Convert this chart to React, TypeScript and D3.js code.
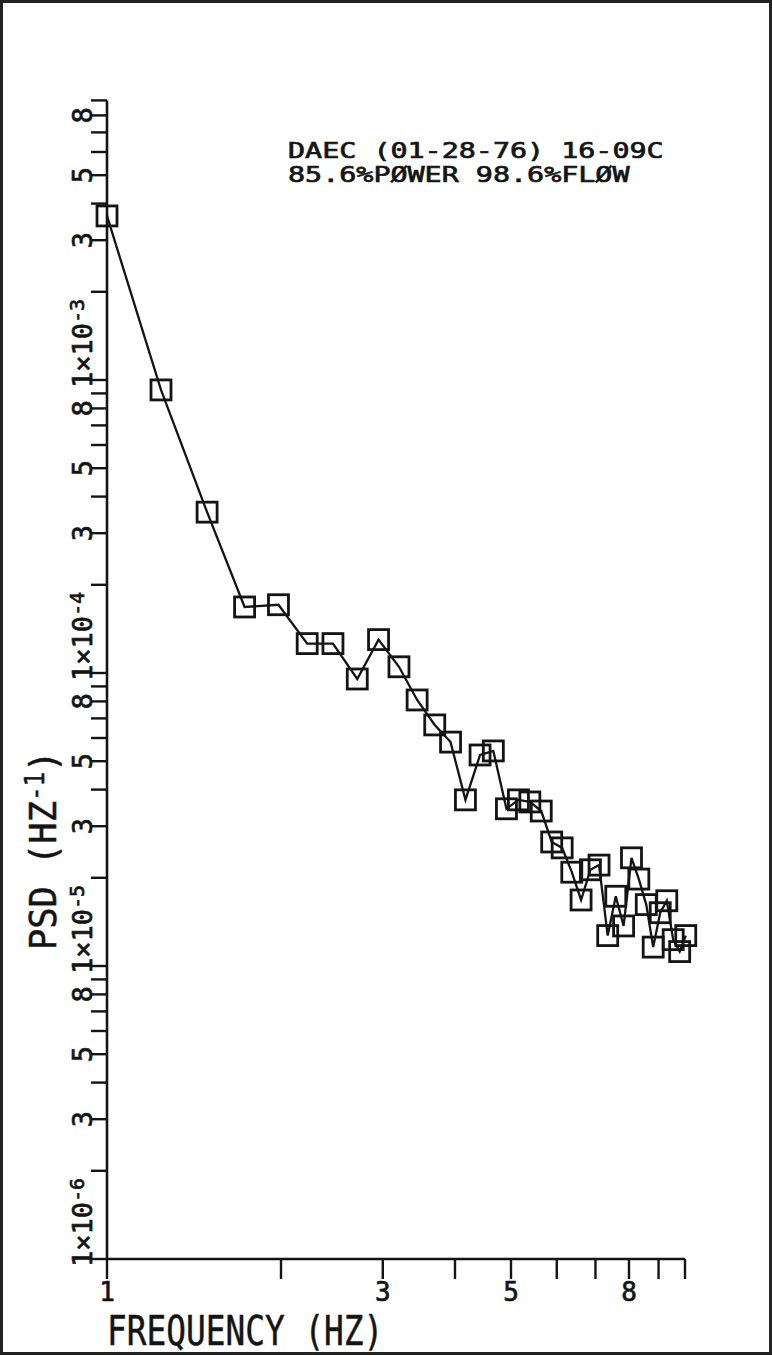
import React from 'react';
import * as d3 from 'd3';

// PSD spectrum, DAEC 01-28-76, one point per frequency bin
const freqHz = [
  1.0, 1.24, 1.49, 1.73, 1.98, 2.22, 2.46, 2.71, 2.95, 3.2,
  3.44, 3.69, 3.93, 4.17, 4.42, 4.66, 4.91, 5.15, 5.39, 5.64,
  5.88, 6.13, 6.37, 6.61, 6.86, 7.1, 7.35, 7.59, 7.83, 8.08,
  8.32, 8.57, 8.81, 9.06, 9.3, 9.54, 9.79, 10.03,
];
const psd = [
  3.63e-3, 9.25e-4, 3.54e-4, 1.68e-4, 1.71e-4, 1.26e-4, 1.26e-4, 9.54e-5, 1.3e-4, 1.05e-4,
  8.09e-5, 6.65e-5, 5.81e-5, 3.69e-5, 5.25e-5, 5.42e-5, 3.44e-5, 3.69e-5, 3.63e-5, 3.38e-5,
  2.65e-5, 2.53e-5, 2.09e-5, 1.68e-5, 2.13e-5, 2.21e-5, 1.27e-5, 1.73e-5, 1.37e-5, 2.34e-5,
  1.98e-5, 1.62e-5, 1.16e-5, 1.52e-5, 1.67e-5, 1.23e-5, 1.12e-5, 1.27e-5,
];

const xTicks = [1, 2, 3, 4, 5, 6, 7, 8, 9, 10];
const xTickLabels = ['1', '', '3', '', '5', '', '', '8', '', ''];
const yDecades = [-6, -5, -4, -3];
const yMantissas = [1, 2, 3, 4, 5, 6, 7, 8, 9];
const yLabeledMantissas = [1, 3, 5, 8];
const titleLines = ['DAEC (01-28-76) 16-09C', '85.6%PØWER 98.6%FLØW'];

const W = 772;
const H = 1356;
const FONT = '"DejaVu Sans Mono", monospace';
const INK = '#141414';

const App = () => {
  const x = d3.scaleLog().domain([1, 10]).range([107, 685]);
  const y = d3.scaleLog().domain([1e-6, 1e-2]).range([1259, 87]);

  const points = freqHz.map((f, i) => [f, psd[i]] as [number, number]);
  const line = d3.line<[number, number]>()
    .x(d => x(d[0]))
    .y(d => y(d[1]));

  const yTicks: { v: number; m: number; e: number }[] = [];
  yDecades.forEach(e => {
    yMantissas.forEach(m => {
      yTicks.push({ v: m * Math.pow(10, e), m, e });
    });
  });

  const x0 = x(1);
  const y0 = y(1e-6);
  const sq = 20;
  // plotter pen look: a thin outline on the glyphs
  const pen = { fill: INK, stroke: INK, strokeWidth: 0.7 };

  return (
    <svg width={W} height={H} style={{ position: 'absolute', left: 0, top: 0, background: '#fff' }}>
      <rect x={1.5} y={1.5} width={W - 3} height={H - 4} fill="#fff" stroke="#222" strokeWidth={3} />

      {/* axes */}
      <line x1={x0} x2={x(10)} y1={y0} y2={y0} stroke={INK} strokeWidth={2.6} />
      <line x1={x0} x2={x0} y1={y0} y2={y(9e-3)} stroke={INK} strokeWidth={2.6} />

      {xTicks.map((t, i) => (
        <g key={'xt' + t}>
          <line x1={x(t)} x2={x(t)} y1={y0} y2={y0 + 20} stroke={INK} strokeWidth={2.4} />
          {xTickLabels[i] && (
            <text x={x(t)} y={y0 + 42} textAnchor="middle" fontFamily={FONT} fontSize={26} {...pen}>
              {xTickLabels[i]}
            </text>
          )}
        </g>
      ))}

      {yTicks.map(t => (
        <g key={'yt' + t.v}>
          <line x1={x0 - 16} x2={x0} y1={y(t.v)} y2={y(t.v)} stroke={INK} strokeWidth={2.4} />
          {yLabeledMantissas.includes(t.m) && (
            <text
              transform={`translate(92,${y(t.v)}) rotate(-90)`}
              x={t.m === 1 ? -8 : 0}
              textAnchor={t.m === 1 ? 'start' : 'middle'}
              fontFamily={FONT}
              fontSize={27}
              {...pen}
            >
              {t.m === 1 ? (
                <>
                  1×10
                  <tspan fontSize={20} dy={-8}>{String(t.e)}</tspan>
                </>
              ) : (
                String(t.m)
              )}
            </text>
          )}
        </g>
      ))}

      {/* series */}
      <path d={line(points) || ''} fill="none" stroke={INK} strokeWidth={2.3} />
      {points.map((d, i) => (
        <rect
          key={'p' + i}
          x={x(d[0]) - sq / 2}
          y={y(d[1]) - sq / 2}
          width={sq}
          height={sq}
          fill="none"
          stroke={INK}
          strokeWidth={2.8}
        />
      ))}

      {/* annotation */}
      {titleLines.map((s, i) => (
        <text
          key={'tl' + i}
          transform={`translate(288,${158 + i * 24}) scale(1.29,1)`}
          fontFamily={FONT}
          fontSize={22}
          {...pen}
        >
          {s}
        </text>
      ))}

      {/* axis titles */}
      <text
        transform="translate(107,1345) scale(0.8,1)"
        fontFamily={FONT}
        fontSize={41}
        {...pen}
        strokeWidth={0.5}
      >
        FREQUENCY (HZ)
      </text>
      <text
        transform="translate(56,950) rotate(-90) scale(0.93,1)"
        fontFamily={FONT}
        fontSize={38}
        {...pen}
        strokeWidth={0.5}
      >
        PSD (HZ<tspan fontSize={26} dy={-12}>-1</tspan><tspan dy={12}>)</tspan>
      </text>
    </svg>
  );
};

export default App;
